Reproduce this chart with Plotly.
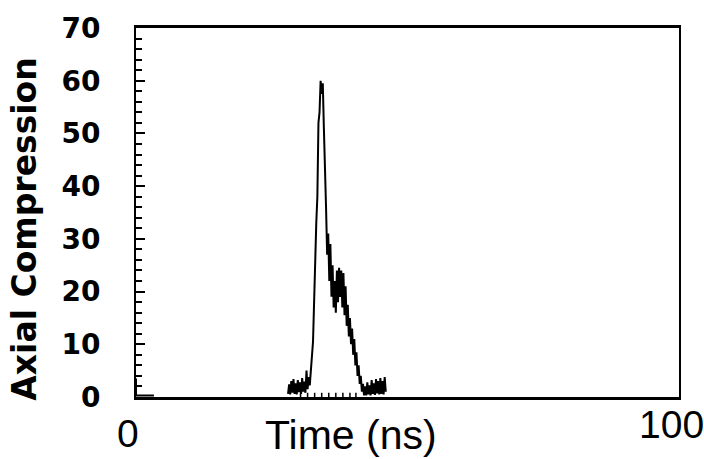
import plotly.graph_objects as go

# ---------------- data ----------------
time_ns = [28.0, 28.2, 28.4, 28.6, 28.8, 29.0, 29.2, 29.4, 29.6, 29.8,
           30.0, 30.2, 30.4, 30.6, 30.8, 31.0, 31.2, 31.4, 31.6, 31.8,
           32.0, 32.2, 32.4, 32.6, 32.8, 33.0, 33.2, 33.4, 33.6, 33.8,
           34.0, 34.2, 34.4, 34.6, 34.8, 35.0, 35.2, 35.4, 35.6, 35.8,
           36.0, 36.2, 36.4, 36.6, 36.8, 37.0, 37.2, 37.4, 37.6, 37.8,
           38.0, 38.2, 38.4, 38.6, 38.8, 39.0, 39.2, 39.4, 39.6, 39.8,
           40.0, 40.2, 40.4, 40.6, 40.8, 41.0, 41.2, 41.4, 41.6, 41.8,
           42.0, 42.2, 42.4, 42.6, 42.8, 43.0, 43.2, 43.4, 43.6, 43.8,
           44.0, 44.2, 44.4, 44.6, 44.8, 45.0, 45.2, 45.4, 45.6, 45.8, 46.0]
compression = [0.6, 2.4, 0.5, 3.0, 0.8, 3.4, 0.6, 2.6, 0.5, 3.2,
               0.9, 2.8, 0.6, 3.6, 1.0, 2.9, 0.8, 5.0, 1.5, 3.8,
               2.2, 5.0, 8.5, 10.5, 18.0, 28.0, 33.0, 38.0, 52.0, 54.0,
               60.0, 57.5, 59.5, 51.0, 45.0, 36.0, 27.0, 31.0, 22.0, 29.0,
               19.0, 25.0, 17.0, 22.0, 16.0, 24.0, 18.0, 24.5, 19.0, 24.0,
               17.0, 23.5, 15.5, 21.0, 13.5, 17.5, 11.5, 15.0, 10.0, 13.0,
               8.0, 11.0, 6.0, 8.5, 4.0, 6.0, 2.5, 4.0, 1.0, 2.5,
               0.3, 2.0, 0.3, 2.8, 0.5, 2.2, 0.3, 3.2, 0.6, 2.6,
               0.4, 3.4, 0.7, 3.0, 0.5, 3.6, 0.6, 3.0, 0.5, 3.8, 1.0]

# short initial segment near t = 0
start_time_ns = [0.0, 0.0, 0.15, 3.3]
start_compression = [3.5, 0.3, 0.3, 0.3]

# small comb of near-zero samples under the pulse
comb_time_ns = [30.3, 31.6, 32.9, 34.2, 35.5, 36.8, 38.1, 39.4, 40.5]
comb_value = [0.8, 0.8, 0.8, 0.8, 0.8, 0.8, 0.8, 0.8, 0.8]

x_tick_vals = [0, 100]
x_tick_text = ["0", "100"]
y_tick_vals = [0, 10, 20, 30, 40, 50, 60, 70]
x_title = "Time (ns)"
y_title = "Axial Compression"

# ---------------- figure ----------------
FONT = "Liberation Sans, Arial, sans-serif"
BOLD_FONT = "DejaVu Sans, Liberation Sans, sans-serif"
fig = go.Figure()

fig.add_trace(go.Scatter(x=start_time_ns, y=start_compression, mode="lines",
                         line=dict(color="black", width=2), showlegend=False))
fig.add_trace(go.Scatter(x=time_ns, y=compression, mode="lines",
                         line=dict(color="black", width=2), showlegend=False))

comb_x, comb_y = [], []
for t, v in zip(comb_time_ns, comb_value):
    comb_x += [t, t, None]
    comb_y += [0, v, None]
fig.add_trace(go.Scatter(x=comb_x, y=comb_y, mode="lines",
                         line=dict(color="black", width=1.5), showlegend=False))

fig.update_xaxes(range=[0, 100], showline=True, linecolor="black", linewidth=2.5,
                 mirror=True, showgrid=False, zeroline=False,
                 tickvals=x_tick_vals, showticklabels=False, ticks="")
fig.update_yaxes(range=[0, 70], showline=True, linecolor="black", linewidth=2,
                 mirror=True, showgrid=False, zeroline=False,
                 tickvals=y_tick_vals, ticks="inside", ticklen=9, tickwidth=1.5,
                 tickcolor="black",
                 minor=dict(dtick=2, ticks="inside", ticklen=6, tickwidth=1.5,
                            tickcolor="black", showgrid=False),
                 tickfont=dict(family=BOLD_FONT, size=28, color="black", weight="bold"),
                 ticklabelstandoff=28)

# x tick labels (offset as in the original)
x_label_shift = [(-8.5, -36.5), (-8, -27)]
for v, txt, (dx, dy) in zip(x_tick_vals, x_tick_text, x_label_shift):
    fig.add_annotation(x=v, y=0, xref="x", yref="paper", text=txt, showarrow=False,
                       xanchor="center", yanchor="middle", xshift=dx, yshift=dy,
                       font=dict(family=FONT, size=39, color="black"))

fig.add_annotation(x=0.396, y=0, xref="paper", yref="paper", text=x_title,
                   showarrow=False, xanchor="center", yanchor="middle", yshift=-38,
                   font=dict(family=FONT, size=41, color="black"))
fig.add_annotation(x=0, y=0.456, xref="paper", yref="paper", text=y_title,
                   showarrow=False, xanchor="center", yanchor="middle", xshift=-111,
                   textangle=-90,
                   font=dict(family=BOLD_FONT, size=33, color="black", weight="bold"))

fig.update_layout(width=704, height=459, margin=dict(l=136, r=25, t=22, b=62),
                  paper_bgcolor="white", plot_bgcolor="white", showlegend=False)

fig.write_html("out.html")
